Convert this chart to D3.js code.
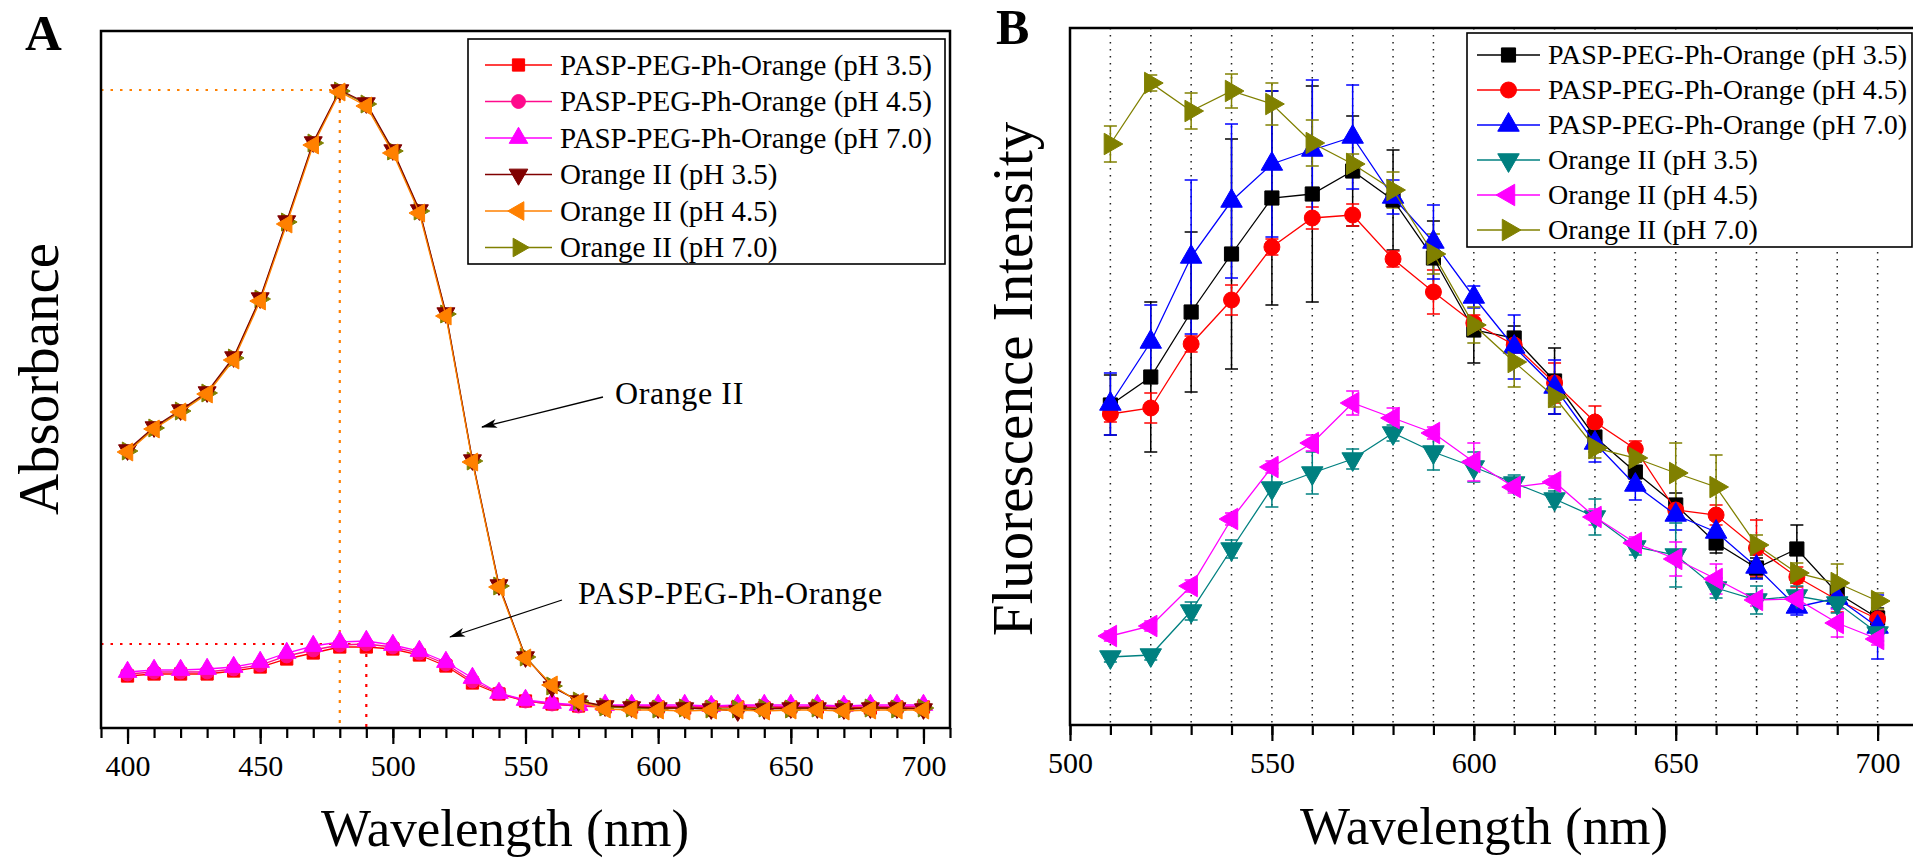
<!DOCTYPE html>
<html>
<head>
<meta charset="utf-8">
<script src="https://cdn.jsdelivr.net/npm/d3@7"></script>
<style>
  body { margin: 0; background: #fff; }
  text { font-family: "Liberation Serif", "Times New Roman", serif; fill: #000; }
</style>
</head>
<body>
<div id="chart"></div>
<script>
// Panel A: absorbance spectra, Panel B: fluorescence spectra

const width = 1913
const height = 860

// ---- panel A data ----
const wlA = [400, 410, 420, 430, 440, 450, 460, 470, 480, 490, 500, 510, 520, 530, 540, 550,
             560, 570, 580, 590, 600, 610, 620, 630, 640, 650, 660, 670, 680, 690, 700]

const absPasp35 = [0.052, 0.054, 0.054, 0.054, 0.057, 0.061, 0.069, 0.075, 0.081, 0.081, 0.079, 0.073, 0.062, 0.045, 0.034, 0.027,
                   0.024, 0.022, 0.021, 0.021, 0.021, 0.020, 0.021, 0.021, 0.020, 0.021, 0.021, 0.021, 0.020, 0.021, 0.021]
const absPasp45 = [0.054, 0.056, 0.056, 0.056, 0.059, 0.063, 0.072, 0.078, 0.083, 0.084, 0.081, 0.075, 0.064, 0.047, 0.035, 0.027,
                   0.024, 0.022, 0.022, 0.022, 0.022, 0.021, 0.022, 0.022, 0.022, 0.021, 0.022, 0.022, 0.022, 0.021, 0.022]
const absPasp70 = [0.056, 0.058, 0.058, 0.059, 0.061, 0.066, 0.075, 0.082, 0.086, 0.087, 0.083, 0.077, 0.066, 0.050, 0.035, 0.028,
                   0.025, 0.023, 0.023, 0.023, 0.023, 0.023, 0.022, 0.023, 0.023, 0.023, 0.023, 0.022, 0.023, 0.023, 0.023]
const absOrange35 = [0.278, 0.301, 0.318, 0.336, 0.371, 0.430, 0.507, 0.586, 0.638, 0.625, 0.578, 0.518, 0.415, 0.268, 0.143, 0.071,
                     0.041, 0.027, 0.022, 0.021, 0.020, 0.020, 0.019, 0.017, 0.019, 0.020, 0.020, 0.019, 0.020, 0.020, 0.019]
const absOrange45 = [0.276, 0.299, 0.316, 0.334, 0.368, 0.427, 0.504, 0.583, 0.636, 0.622, 0.575, 0.515, 0.412, 0.266, 0.141, 0.070,
                     0.043, 0.026, 0.019, 0.018, 0.018, 0.017, 0.018, 0.018, 0.017, 0.018, 0.018, 0.017, 0.018, 0.018, 0.018]
const absOrange70 = [0.277, 0.300, 0.317, 0.335, 0.370, 0.429, 0.506, 0.585, 0.637, 0.624, 0.577, 0.517, 0.414, 0.267, 0.142, 0.071,
                     0.042, 0.027, 0.021, 0.020, 0.019, 0.020, 0.019, 0.019, 0.020, 0.019, 0.020, 0.019, 0.020, 0.019, 0.020]

// ---- panel B data ----
const wlB = [510, 520, 530, 540, 550, 560, 570, 580, 590, 600, 610, 620, 630, 640, 650, 660, 670, 680, 690, 700]

const flPasp35 = [320, 348, 413, 471, 527, 531, 554, 525, 467, 395, 387, 344, 288, 253, 220, 182, 157, 176, 132, 107]
const errPasp35 = [30, 75, 80, 115, 107, 108, 55, 50, 37, 33, 12, 33, 15, 10, 12, 10, 10, 24, 10, 10]
const flPasp45 = [311, 317, 381, 425, 478, 507, 510, 466, 433, 402, 380, 342, 303, 276, 215, 210, 177, 148, 125, 106]
const errPasp45 = [8, 15, 8, 15, 8, 11, 11, 8, 22, 8, 8, 20, 16, 8, 10, 10, 28, 10, 12, 8]
const flPasp70 = [321, 383, 468, 524, 561, 575, 588, 528, 483, 428, 378, 338, 282, 240, 210, 193, 158, 118, 127, 98]
const errPasp70 = [31, 37, 77, 77, 73, 70, 52, 17, 37, 11, 32, 27, 19, 15, 15, 12, 12, 8, 10, 32]
const flOrange35 = [68, 70, 114, 176, 237, 252, 266, 292, 273, 258, 242, 226, 208, 178, 170, 137, 125, 129, 122, 92]
const errOrange35 = [5, 5, 9, 9, 19, 21, 10, 8, 18, 15, 8, 8, 18, 8, 32, 10, 14, 10, 10, 8]
const flOrange45 = [89, 99, 139, 206, 258, 282, 322, 307, 292, 263, 238, 243, 208, 182, 166, 146, 125, 126, 102, 86]
const errOrange45 = [5, 5, 6, 6, 6, 8, 12, 10, 6, 19, 6, 6, 8, 6, 17, 15, 6, 6, 14, 6]
const flOrange70 = [581, 642, 614, 634, 621, 582, 561, 535, 471, 400, 363, 328, 277, 267, 252, 238, 180, 152, 142, 124]
const errOrange70 = [18, 8, 18, 17, 21, 23, 10, 18, 20, 18, 25, 10, 10, 10, 30, 32, 10, 10, 19, 8]

const seriesNames = ['PASP-PEG-Ph-Orange (pH 3.5)', 'PASP-PEG-Ph-Orange (pH 4.5)', 'PASP-PEG-Ph-Orange (pH 7.0)',
                     'Orange II (pH 3.5)', 'Orange II (pH 4.5)', 'Orange II (pH 7.0)']
const shapes = ['square', 'circle', 'up', 'down', 'left', 'right']
const colorsA = ['#ff0000', '#ff0a8c', '#ff00ff', '#800000', '#ff8000', '#808000']
const colorsB = ['#000000', '#ff0000', '#0000ff', '#008080', '#ff00ff', '#808000']

const ticksMajorA = [400, 450, 500, 550, 600, 650, 700]
const ticksMajorB = [500, 550, 600, 650, 700]

const font = '"Liberation Serif", "Times New Roman", serif'

const svg = d3.select('#chart').append('svg')
    .attr('width', width)
    .attr('height', height)

svg.append('rect').attr('width', width).attr('height', height).attr('fill', '#fff')

const defs = svg.append('defs')
defs.append('marker')
    .attr('id', 'arrow')
    .attr('viewBox', '0 0 16 9')
    .attr('refX', 15).attr('refY', 4.5)
    .attr('markerWidth', 16).attr('markerHeight', 9)
    .attr('markerUnits', 'userSpaceOnUse')
    .attr('orient', 'auto')
    .append('path')
    .attr('d', 'M0,0 L16,4.5 L0,9 L4,4.5 Z')
    .attr('fill', '#000')

function symbolPath(shape, size) {
    let type = d3.symbolTriangle
    if (shape === 'square') type = d3.symbolSquare
    if (shape === 'circle') type = d3.symbolCircle
    return d3.symbol().type(type).size(size)()
}
function symbolRotation(shape) {
    if (shape === 'down') return 180
    if (shape === 'left') return -90
    if (shape === 'right') return 90
    return 0
}

function drawMarkers(g, xs, ys, shape, color, size) {
    g.selectAll(null)
        .data(xs.map((x, i) => [x, ys[i]]))
        .join('path')
        .attr('d', symbolPath(shape, size))
        .attr('transform', d => `translate(${d[0]},${d[1]}) rotate(${symbolRotation(shape)})`)
        .attr('fill', color)
        .attr('stroke', color)
        .attr('stroke-width', 1)
}

function drawAxis(g, x, yPos, allTicks, majorTicks) {
    const minor = d3.axisBottom(x).tickValues(allTicks).tickSize(10).tickSizeOuter(0).tickFormat('')
    const major = d3.axisBottom(x).tickValues(majorTicks).tickSize(16).tickSizeOuter(0).tickFormat(d3.format('d'))
    const gm = g.append('g').attr('transform', `translate(0,${yPos})`).call(minor)
    const gM = g.append('g').attr('transform', `translate(0,${yPos})`).call(major)
        .attr('font-family', font).attr('font-size', 30)
    ;[gm, gM].forEach(a => {
        a.select('.domain').remove()
        a.selectAll('line').attr('stroke', '#000').attr('stroke-width', 2.2)
    })
    gM.selectAll('text')
        .attr('y', 48).attr('dy', null)
        .attr('fill', '#000')
        .style('font-family', font)
        .style('font-size', '30px')
}

function drawLegend(g, x0, y0, w, h, rowY, rowStep, lineX1, lineX2, textX, colors, fontSize, symSize) {
    g.append('rect')
        .attr('x', x0).attr('y', y0).attr('width', w).attr('height', h)
        .attr('fill', '#fff').attr('stroke', '#000').attr('stroke-width', 1.6)
    seriesNames.forEach((name, i) => {
        const cy = rowY + i * rowStep
        g.append('line')
            .attr('x1', lineX1).attr('x2', lineX2).attr('y1', cy).attr('y2', cy)
            .attr('stroke', colors[i]).attr('stroke-width', 1.4)
        drawMarkers(g, [(lineX1 + lineX2) / 2], [cy], shapes[i], colors[i], symSize)
        g.append('text')
            .attr('x', textX).attr('y', cy + fontSize * 0.33)
            .style('font-size', fontSize + 'px')
            .text(name)
    })
}

// ================= Panel A =================
const xA = d3.scaleLinear().domain([390, 710]).range([101, 950])
const yA = d3.scaleLinear().domain([0, 0.697]).range([728, 31])
const gA = svg.append('g')

const absSeries = [absPasp35, absPasp45, absPasp70, absOrange35, absOrange45, absOrange70]
// olive curve sits underneath, dark red next, orange on top
const drawOrderA = [0, 1, 2, 5, 3, 4]

// dotted guide lines at the two maxima
const peakO = d3.maxIndex(absOrange35)
const peakP = d3.maxIndex(absPasp45)
const guides = [
    { x: wlA[peakO], y: absOrange35[peakO], color: '#ff8000' },
    { x: wlA[peakP], y: absPasp45[peakP], color: '#ff0000' }
]
guides.forEach(gd => {
    gA.append('line')
        .attr('x1', xA(390)).attr('x2', xA(gd.x)).attr('y1', yA(gd.y)).attr('y2', yA(gd.y))
        .attr('stroke', gd.color).attr('stroke-width', 2.2).attr('stroke-dasharray', '2.5,7')
    gA.append('line')
        .attr('x1', xA(gd.x)).attr('x2', xA(gd.x)).attr('y1', yA(gd.y)).attr('y2', yA(0))
        .attr('stroke', gd.color).attr('stroke-width', 2.2).attr('stroke-dasharray', '3,7')
})

drawOrderA.forEach(i => {
    const vals = absSeries[i]
    const line = d3.line().x((d, j) => xA(wlA[j])).y(d => yA(d))
    gA.append('path').datum(vals)
        .attr('d', line).attr('fill', 'none')
        .attr('stroke', colorsA[i]).attr('stroke-width', 1.3)
    drawMarkers(gA, wlA.map(w => xA(w)), vals.map(v => yA(v)), shapes[i], colorsA[i], i < 3 ? 150 : 140)
})

gA.append('rect')
    .attr('x', xA(390)).attr('y', yA(0.697))
    .attr('width', xA(710) - xA(390)).attr('height', yA(0) - yA(0.697))
    .attr('fill', 'none').attr('stroke', '#000').attr('stroke-width', 2.5)

drawAxis(gA, xA, yA(0), d3.range(390, 711, 10), ticksMajorA)

drawLegend(gA, 468, 39, 477, 225, 65, 36.5, 485, 552, 560, colorsA, 29, 150)

// annotations
gA.append('text').attr('x', 615).attr('y', 404)
    .style('font-size', '32px').style('letter-spacing', '0.6px').text('Orange II')
gA.append('line').attr('x1', 603).attr('y1', 397).attr('x2', 482).attr('y2', 427)
    .attr('stroke', '#000').attr('stroke-width', 1.3).attr('marker-end', 'url(#arrow)')
gA.append('text').attr('x', 578).attr('y', 604)
    .style('font-size', '32px').style('letter-spacing', '0.6px').text('PASP-PEG-Ph-Orange')
gA.append('line').attr('x1', 562).attr('y1', 600).attr('x2', 450).attr('y2', 637)
    .attr('stroke', '#000').attr('stroke-width', 1.3).attr('marker-end', 'url(#arrow)')

gA.append('text').attr('x', 25).attr('y', 50)
    .style('font-size', '51px').style('font-weight', 'bold').text('A')
gA.append('text')
    .attr('transform', 'translate(58,379) rotate(-90)')
    .attr('text-anchor', 'middle')
    .style('font-size', '57px')
    .text('Absorbance')
gA.append('text').attr('x', 505).attr('y', 846)
    .attr('text-anchor', 'middle').style('font-size', '53px')
    .text('Wavelength (nm)')

// ================= Panel B =================
const xB = d3.scaleLinear().domain([500, 710]).range([1070, 1918])
const yB = d3.scaleLinear().domain([0, 697]).range([725, 28])
const gB = svg.append('g')

gB.selectAll(null)
    .data(wlB)
    .join('line')
    .attr('x1', d => xB(d)).attr('x2', d => xB(d))
    .attr('y1', yB(697)).attr('y2', yB(0))
    .attr('stroke', '#222').attr('stroke-width', 1.5).attr('stroke-dasharray', '1.5,5.5')

const flSeries = [flPasp35, flPasp45, flPasp70, flOrange35, flOrange45, flOrange70]
const errSeries = [errPasp35, errPasp45, errPasp70, errOrange35, errOrange45, errOrange70]

flSeries.forEach((vals, i) => {
    const eg = gB.append('g').attr('stroke', colorsB[i]).attr('stroke-width', 1.5)
    vals.forEach((v, j) => {
        const x = xB(wlB[j])
        const e = errSeries[i][j]
        eg.append('line').attr('x1', x).attr('x2', x).attr('y1', yB(v - e)).attr('y2', yB(v + e))
        eg.append('line').attr('x1', x - 6.5).attr('x2', x + 6.5).attr('y1', yB(v - e)).attr('y2', yB(v - e))
        eg.append('line').attr('x1', x - 6.5).attr('x2', x + 6.5).attr('y1', yB(v + e)).attr('y2', yB(v + e))
    })
})

flSeries.forEach((vals, i) => {
    const line = d3.line().x((d, j) => xB(wlB[j])).y(d => yB(d))
    gB.append('path').datum(vals)
        .attr('d', line).attr('fill', 'none')
        .attr('stroke', colorsB[i]).attr('stroke-width', 1.3)
    drawMarkers(gB, wlB.map(w => xB(w)), vals.map(v => yB(v)), shapes[i], colorsB[i], 200)
})

gB.append('rect')
    .attr('x', xB(500)).attr('y', yB(697))
    .attr('width', xB(710) - xB(500)).attr('height', yB(0) - yB(697))
    .attr('fill', 'none').attr('stroke', '#000').attr('stroke-width', 2.5)

drawAxis(gB, xB, yB(0), d3.range(500, 711, 10), ticksMajorB)

drawLegend(gB, 1467, 33, 445, 214, 55, 35, 1477, 1540, 1548, colorsB, 28, 200)

gB.append('text').attr('x', 996).attr('y', 44)
    .style('font-size', '50px').style('font-weight', 'bold').text('B')
gB.append('text')
    .attr('transform', 'translate(1032,379) rotate(-90)')
    .attr('text-anchor', 'middle')
    .style('font-size', '57px')
    .text('Fluorescence Intensity')
gB.append('text').attr('x', 1484).attr('y', 844)
    .attr('text-anchor', 'middle').style('font-size', '53px')
    .text('Wavelength (nm)')
</script>
</body>
</html>
